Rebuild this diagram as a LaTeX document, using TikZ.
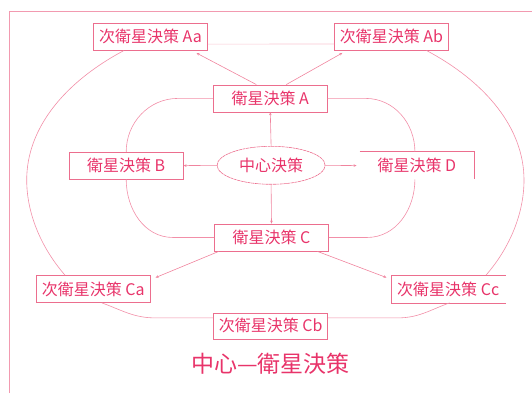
\documentclass[tikz,border=0pt]{standalone}
\usepackage{fontspec}
\newfontfamily\cjk{Noto Sans CJK SC}
\usepackage{xcolor}
\usetikzlibrary{arrows.meta}
\usetikzlibrary{shapes.geometric}

\definecolor{decred}{HTML}{E8346A}
\definecolor{boxpink}{HTML}{EC6E8E}
\definecolor{linkpink}{HTML}{F0849E}
\definecolor{ringpink}{HTML}{F28FA8}
\definecolor{palepink}{HTML}{F8C6D2}
\definecolor{framepink}{HTML}{F29AB0}

\begin{document}
\begin{tikzpicture}[x=1pt, y=-1pt,
            decbox/.style={draw=boxpink, line width=0.7pt, text=decred, font=\cjk\fontsize{16}{18}\selectfont,
                minimum width=114pt, minimum height=27pt, inner sep=0pt},
            boxline/.style={draw=boxpink, line width=0.7pt},
            hubnode/.style={ellipse, draw=boxpink, line width=0.6pt, dashed, dash pattern=on 3pt off 0.6pt,
                text=decred, font=\cjk\fontsize{16}{18}\selectfont, minimum width=108pt, minimum height=38pt, inner sep=0pt},
            titlenode/.style={text=decred, font=\cjk\fontsize{23}{26}\selectfont},
            link/.style={draw=linkpink, line width=0.6pt, -{Stealth[length=3pt, width=2.6pt]}},
            ring/.style={draw=ringpink, line width=0.6pt},
            frameline/.style={draw=framepink, line width=0.8pt}
        ]
            \useasboundingbox (0,0) rectangle (532,393);

            % frame
            \draw[frameline] (9.2,393) -- (9.2,11.2) -- (532,11.2);

            % satellite decisions
            \node[decbox] (A) at (270.3,98.4) {衛星決策 A};
            \node[decbox] (B) at (126.2,165.6) {衛星決策 B};
            \node[decbox] (C) at (271.5,237.5) {衛星決策 C};
            \node[decbox, draw=none] (D) at (416.9,165.6) {衛星決策 D};
            \draw[boxline] (D.north west) -- (D.north east) -- (D.south east);

            % centre
            \node[hubnode] (cen) at (271.1,165.3) {中心決策};

            % sub-satellite decisions
            \node[decbox] (Aa) at (150.5,36.7) {次衛星決策 Aa};
            \node[decbox] (Ab) at (391.4,36.6) {次衛星決策 Ab};
            \node[decbox] (Ca) at (93.3,289) {次衛星決策 Ca};
            \node[decbox, minimum height=26pt] (Cb) at (270.6,325.9) {次衛星決策 Cb};
            \node[decbox, draw=none] (Cc) at (448.2,289) {次衛星決策 Cc};
            \draw[boxline] (Cc.north east) -- (Cc.north west) -- (Cc.south west) -- (Cc.south east);

            % title
            \node[titlenode] (ttl) at (270.5,363.5) {中心—衛星決策};

            % arrows from the centre
            \draw[link] (cen.north) -- (A.south);
            \draw[link] (cen.west) -- (B.east);
            \draw[link] (cen.east) -- ([xshift=-3pt]D.west);
            \draw[link] (cen.south) -- (C.north);

            % arrows to the sub-satellites
            \draw[link] ([xshift=-14pt]A.north) -- ([xshift=46pt, yshift=-2.5pt]Aa.south);
            \draw[link] ([xshift=16pt]A.north) -- ([xshift=-49pt, yshift=-2.5pt]Ab.south);
            \draw[link] ([xshift=-52.6pt]C.south) -- ([xshift=5pt, yshift=-2.4pt]Ca.north east);
            \draw[link] ([xshift=45.8pt]C.south) -- ([xshift=-4.4pt, yshift=-2.4pt]Cc.north west);

            % inner ring
            \draw[ring] (A.west) -- ([xshift=-35pt]A.west) to[out=180, in=90] (B.north);
            \draw[ring] (B.south) to[out=-90, in=180] ([xshift=-41pt]C.west) -- (C.west);
            \draw[ring] (A.east) -- ([xshift=38pt]A.east) to[out=0, in=90] ([xshift=-2pt]D.north);
            \draw[ring] ([xshift=-2pt]D.south) to[out=-90, in=0] ([xshift=38pt]C.east) -- (C.east);

            % outer ring
            \coordinate (wfar) at (26.7,180);
            \coordinate (efar) at (524,180);
            \draw[palepink, line width=0.6pt] ([yshift=-7.4pt]Aa.east) -- ([yshift=-7.4pt]Ab.west);
            \draw[ring] ([xshift=-26.6pt]Aa.south)
                to[out=208, in=90, out distance=67pt, in distance=52pt] (wfar)
                to[out=-90, in=131, out distance=32pt, in distance=38pt] ([xshift=-28.3pt]Ca.north);
            \draw[ring] ([xshift=35pt]Ab.south)
                to[out=-28, in=90, out distance=67pt, in distance=52pt] (efar)
                to[out=-90, in=49, out distance=32pt, in distance=38pt] ([xshift=37.8pt]Cc.north);
            \draw[ring] ([xshift=8.5pt]Ca.south) to[out=-20, in=180] ([xshift=-57.8pt, yshift=8pt]Cb.west) -- ([yshift=8pt]Cb.west);
            \draw[ring] ([yshift=8pt]Cb.east) -- ([xshift=69.5pt, yshift=8pt]Cb.east) to[out=0, in=-160] ([xshift=1.4pt]Cc.south);

        \end{tikzpicture}
\end{document}
